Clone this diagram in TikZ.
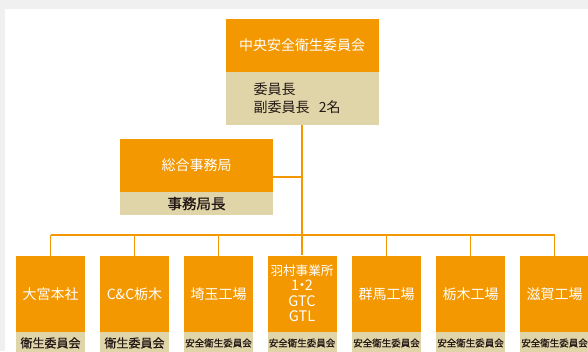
\documentclass[tikz,border=0pt]{standalone}
\usepackage{fontspec}
\newfontfamily\jp{Noto Sans CJK JP}
\newfontfamily\jpb[FakeBold=0.8]{Noto Sans CJK JP}
\definecolor{og}{HTML}{F39800}
\definecolor{bg}{HTML}{E0D5A8}
\definecolor{pagegray}{HTML}{F0F0F0}
\definecolor{txt}{HTML}{231815}
\tikzset{
  obox/.style={fill=og, text=white, draw=none, minimum width=69pt, minimum height=76pt, inner sep=0pt, align=center, font=\jp\fontsize{14}{15.5}\selectfont},
  bbox/.style={fill=bg, text=txt, draw=none, minimum width=69pt, minimum height=22pt, inner sep=0pt, align=center},
  wideo/.style={fill=og, text=white, draw=none, minimum width=153pt, minimum height=53pt, inner sep=0pt, align=center, font=\jp\fontsize{14}{16}\selectfont},
  conn/.style={draw=og, line width=1.5pt},
}
\begin{document}
\begin{tikzpicture}[x=1pt,y=-1pt]
\clip (0,0) rectangle (588,351);
\fill[pagegray] (0,0) rectangle (588,351);
\fill[white] (5,9) rectangle (588,351);
% top
\node[wideo] (a) at (302,45.5) {中央安全衛生委員会};
\node[fill=bg, text=txt, minimum width=153pt, minimum height=53pt, inner xsep=28pt, inner ysep=0pt, text width=97pt, align=left, font=\jp\fontsize{14}{18}\selectfont] (a2) at (302,98.5) {委員長\\副委員長\ \ 2名};
% secretariat
\node[wideo] (b) at (196.5,165.5) {総合事務局};
\node[fill=bg, text=txt, minimum width=153pt, minimum height=23pt, inner sep=0pt, font=\jpb\fontsize{14.5}{16}\selectfont] (b2) at (196.5,203.5) {事務局長};
\coordinate (bm) at (273,177);
% bottom boxes
\node[obox] (d1) at (50.5,294) {大宮本社};
\node[obox] (d2) at (134.5,294) {C\&C栃木};
\node[obox] (d3) at (218.5,294) {埼玉工場};
\node[obox, font=\jp\fontsize{14.5}{15.5}\selectfont] (d4) at (302,293.5) {{\fontsize{12.6}{15.5}\selectfont 羽村事業所}\\1\kern-4.5pt・\kern-4.5pt2\\GTC\\GTL};
\node[obox] (d5) at (386.5,294) {群馬工場};
\node[obox] (d6) at (470.5,294) {栃木工場};
\node[obox] (d7) at (554.5,294) {滋賀工場};
\node[bbox, font=\jpb\fontsize{12}{13}\selectfont] (e1) at (50.5,343) {衛生委員会};
\node[bbox, font=\jpb\fontsize{12}{13}\selectfont] (e2) at (134.5,343) {衛生委員会};
\node[bbox, font=\jpb\fontsize{9.5}{11}\selectfont] (e3) at (218.5,343) {安全衛生委員会};
\node[bbox, font=\jpb\fontsize{9.5}{11}\selectfont] (e4) at (302,343) {安全衛生委員会};
\node[bbox, font=\jpb\fontsize{9.5}{11}\selectfont] (e5) at (386.5,343) {安全衛生委員会};
\node[bbox, font=\jpb\fontsize{9.5}{11}\selectfont] (e6) at (470.5,343) {安全衛生委員会};
\node[bbox, font=\jpb\fontsize{9.5}{11}\selectfont] (e7) at (554.5,343) {安全衛生委員会};
% connectors
\coordinate (bus) at (302,235);
\draw[conn] (a2.south) -- (d4.north);
\draw[conn] (bm) -- (bm -| a2.south);
\draw[conn] (d1.north |- bus) -- (d7.north |- bus);
\foreach \i in {1,2,3,5,6,7} {
  \draw[conn] (d\i.north |- bus) -- (d\i.north);
}
\end{tikzpicture}
\end{document}
